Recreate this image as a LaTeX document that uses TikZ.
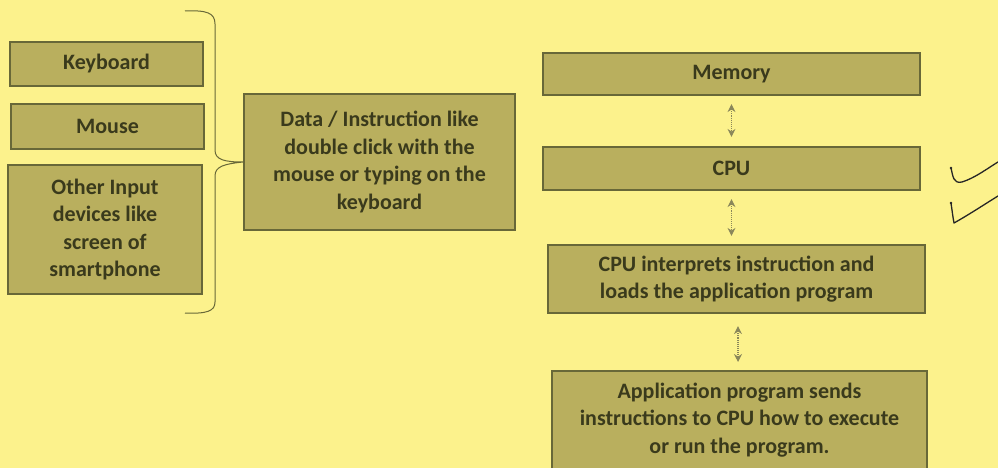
\documentclass[tikz,border=0pt]{standalone}
\usepackage{fontspec}
\setmainfont{Carlito}
\usetikzlibrary{arrows.meta}
\definecolor{bg}{HTML}{FCF28C}
\definecolor{boxfill}{HTML}{B9AF5E}
\definecolor{boxline}{HTML}{686838}
\definecolor{txt}{HTML}{3A3A1C}
\definecolor{arr}{HTML}{8A875A}
\definecolor{ink}{HTML}{262626}
\tikzset{
  blk/.style={draw=boxline, line width=2.2pt, fill=boxfill, text=txt, align=center,
    font=\fontsize{22}{27.5}\selectfont\bfseries, inner sep=0pt},
  link/.style={arr, line width=1.1pt, densely dotted, {Stealth[length=8pt,width=8pt]}-{Stealth[length=8pt,width=8pt]}},
  brace/.style={draw=boxline, line width=1pt},
  check/.style={draw=ink, line width=1.3pt, line cap=round, line join=round}
}
\begin{document}
\begin{tikzpicture}[x=1pt,y=-1pt]
\fill[bg] (0,0) rectangle (998,468);
\useasboundingbox (0,0) rectangle (998,468);
\begin{scope}
\clip (0,0) rectangle (998,468);
\node[blk, minimum width=193, minimum height=44] (kb) at (106.5,64) {Keyboard};
\node[blk, minimum width=193, minimum height=45] (ms) at (107.5,126.5) {Mouse};
\node[blk, minimum width=194, minimum height=129] (oth) at (105,229.5) {Other Input\\devices like\\screen of\\smartphone};
\node[blk, minimum width=271, minimum height=136] (data) at (379.5,162) {Data / Instruction like\\double click with the\\mouse or typing on the\\keyboard};
\node[blk, minimum width=377, minimum height=42] (mem) at (731.5,74) {Memory};
\node[blk, minimum width=377, minimum height=43] (cpu) at (731.5,168.5) {CPU};
\node[blk, minimum width=377, minimum height=68] (intp) at (736.5,279) {CPU interprets instruction and\\loads the application program};
\node[blk, minimum width=375, text depth=18pt, minimum height=112, anchor=north] (app) at (739.5,370) {Application program sends\\instructions to CPU how to execute\\or run the program.};
\end{scope}
% connectors
\draw[link, shorten <=8pt, shorten >=9pt] (mem.south) -- (cpu.north);
\draw[link, shorten <=8pt, shorten >=8pt] (cpu.south) -- (cpu.south |- intp.north);
\draw[link, shorten <=12pt, shorten >=8pt] ([xshift=1.5pt]intp.south) -- ([xshift=1.5pt]intp.south |- app.north);
% brace
\coordinate (bt) at (185,11);
\coordinate (bb) at (185,313);
\coordinate (tip) at (data.west);
\draw[brace] (bt) .. controls (207,10) and (215,13) .. (215,24) -- (215,150)
  .. controls (215,160) and (225,162) .. (tip)
  .. controls (225,164) and (215,166) .. (215,176) -- (215,302)
  .. controls (215,311) and (207,314) .. (bb);
% check marks
\coordinate (c1) at (951,168);
\coordinate (c2) at (998,162);
\coordinate (d1) at (951,203);
\coordinate (d2) at (998,196);
\draw[check] (c1) .. controls (953,176) and (953,184) .. (962,182) .. controls (975,178) and (988,168) .. (c2);
\draw[check] (d1) .. controls (952,210) and (953,218) .. (954,223) .. controls (970,214) and (985,204) .. (d2);
\fill[ink] (c1) circle (1.3);
\fill[ink] (d1) circle (1.3);
\end{tikzpicture}
\end{document}
